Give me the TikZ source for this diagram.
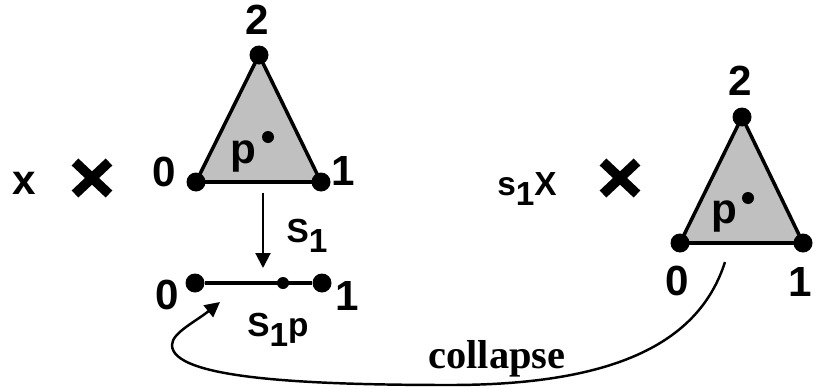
\documentclass[tikz,border=0pt]{standalone}
\usepackage{fontspec}
\setmainfont{Liberation Sans}
\newfontfamily\serifb{Liberation Serif}
\usepackage{xcolor}
\usetikzlibrary{arrows.meta, backgrounds}

\definecolor{grisTri}{RGB}{192,192,192}
\newcommand{\subuno}{\raisebox{-0.3em}{1}}

\begin{document}
\begin{tikzpicture}[x=0.02cm, y=-0.02cm, >={Triangle[length=0.3cm, width=0.3cm]},
    vert/.style={circle, fill, inner sep=0pt, minimum size=0.38cm},
    pto/.style={circle, fill, inner sep=0pt, minimum size=0.24cm},
    etq/.style={inner sep=0pt, font=\fontsize{24}{28}\selectfont\bfseries},
    etqs/.style={inner sep=0pt, font=\fontsize{19}{22}\selectfont\bfseries},
    lado/.style={line width=2pt},
    cruz/.style={line width=5.5pt}]

    \useasboundingbox (0,0) rectangle (815,389);

    % Triangulo izquierdo
    \node[vert] (L2) at (259,55) {};
    \node[vert] (L0) at (196,182) {};
    \node[vert] (L1) at (321,182) {};
    \node[pto] (Lp) at (268,137) {};
    \node[etq] (l2) at (257,20) {2};
    \node[etq] (l0) at (164,172) {0};
    \node[etq] (l1) at (343,171) {1};
    \node[etq] (lp) at (243,156) {p};
    \begin{scope}[on background layer]
        \draw[lado, fill=grisTri] (L0.center) -- (L1.center) -- (L2.center) -- cycle;
    \end{scope}

    % Producto de la izquierda
    \node[etq] (lx) at (24,183) {x};
    \coordinate (xL) at (92,178);
    \draw[cruz] (xL) ++(-17,-16) -- ++(34,32) (xL) ++(-17,16) -- ++(34,-32);

    % Flecha s1
    \coordinate (aS) at (263,193);
    \coordinate (aE) at (263,268);
    \draw[->, line width=1.2pt] (aS) -- (aE);
    \node[etqs] (ls) at (307,236) {S\subuno};

    % Segmento de abajo
    \node[vert] (M0) at (195,283) {};
    \node[vert] (M1) at (322,283) {};
    \node[pto] (Mp) at (283,283) {};
    \draw[lado] (M0) -- (M1);
    \node[etq] (m0) at (167,295) {0};
    \node[etq] (m1) at (347,296) {1};
    \node[etqs] (msp) at (278,330) {S\subuno p};

    % Producto de la derecha
    \node[etqs] (rsx) at (527,189) {s\subuno X};
    \coordinate (xR) at (620,178);
    \draw[cruz] (xR) ++(-17,-16) -- ++(34,32) (xR) ++(-17,16) -- ++(34,-32);

    % Triangulo derecho
    \node[vert] (R2) at (742,117) {};
    \node[vert] (R0) at (680,243) {};
    \node[vert] (R1) at (803,243) {};
    \node[pto] (Rp) at (748,198) {};
    \node[etq] (r2) at (740,81) {2};
    \node[etq] (r0) at (677,281) {0};
    \node[etq] (r1) at (800,282) {1};
    \node[etq] (rp) at (724,216) {p};
    \begin{scope}[on background layer]
        \draw[lado, fill=grisTri] (R0.center) -- (R1.center) -- (R2.center) -- cycle;
    \end{scope}

    % Curva de colapso
    \coordinate (cI) at (725,262);
    \coordinate (cF) at (220,302);
    \draw[->, line width=1.4pt] (cI) .. controls (700,340) and (620,385) .. (450,385)
        .. controls (300,385) and (172,378) .. (172,345)
        .. controls (172,333) and (195,322) .. (cF);
    \node[inner sep=0pt, font=\serifb\bfseries\fontsize{23}{26}\selectfont] (lcol) at (497,359) {collapse};
\end{tikzpicture}
\end{document}
